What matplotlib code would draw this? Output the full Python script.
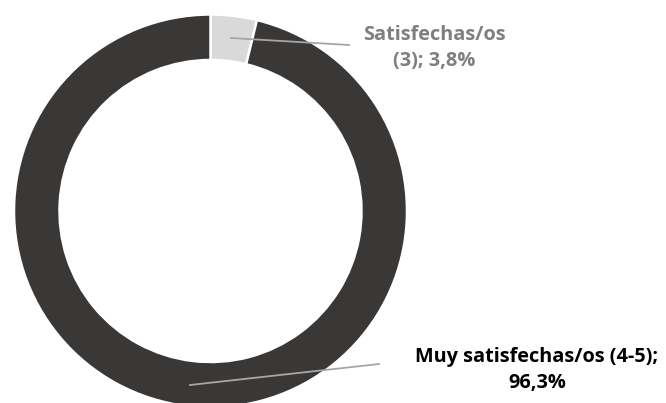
import matplotlib.pyplot as plt

# data
labels = ["Satisfechas/os\n(3); 3,8%", "Muy satisfechas/os (4-5);\n96,3%"]
values = [3.8, 96.3]
colors = ["#D9D9D9", "#3A3836"]
label_colors = ["#7F7F7F", "#000000"]

W, H = 666, 403
fig = plt.figure(figsize=(W / 100, H / 100), dpi=100)
ax = fig.add_axes([0, 0, 1, 1])

# pixel-like coords, y measured from bottom
cx, cy = 210.5, H - 211
R = 196.5
ax.pie(values, colors=colors, startangle=90, counterclock=False,
       center=(cx, cy), radius=R,
       wedgeprops=dict(width=45.5, edgecolor="white", linewidth=1.8))

ax.set_xlim(0, W)
ax.set_ylim(0, H)
ax.set_aspect("equal")
ax.axis("off")

# leader lines (from slice to label)
ax.plot([231, 349], [H - 38, H - 45], color="#A6A6A6", lw=1.3)
ax.plot([190, 379], [H - 385, H - 364], color="#A6A6A6", lw=1.3)

font = ["Open Sans", "DejaVu Sans"]
ax.text(434, H - 48, labels[0], ha="center", va="center", fontsize=14.3,
        fontweight="bold", color=label_colors[0], family=font, linespacing=1.45)
ax.text(537, H - 370, labels[1], ha="center", va="center", fontsize=14.3,
        fontweight="bold", color=label_colors[1], family=font, linespacing=1.35)

fig.savefig("out.png", dpi=100)
